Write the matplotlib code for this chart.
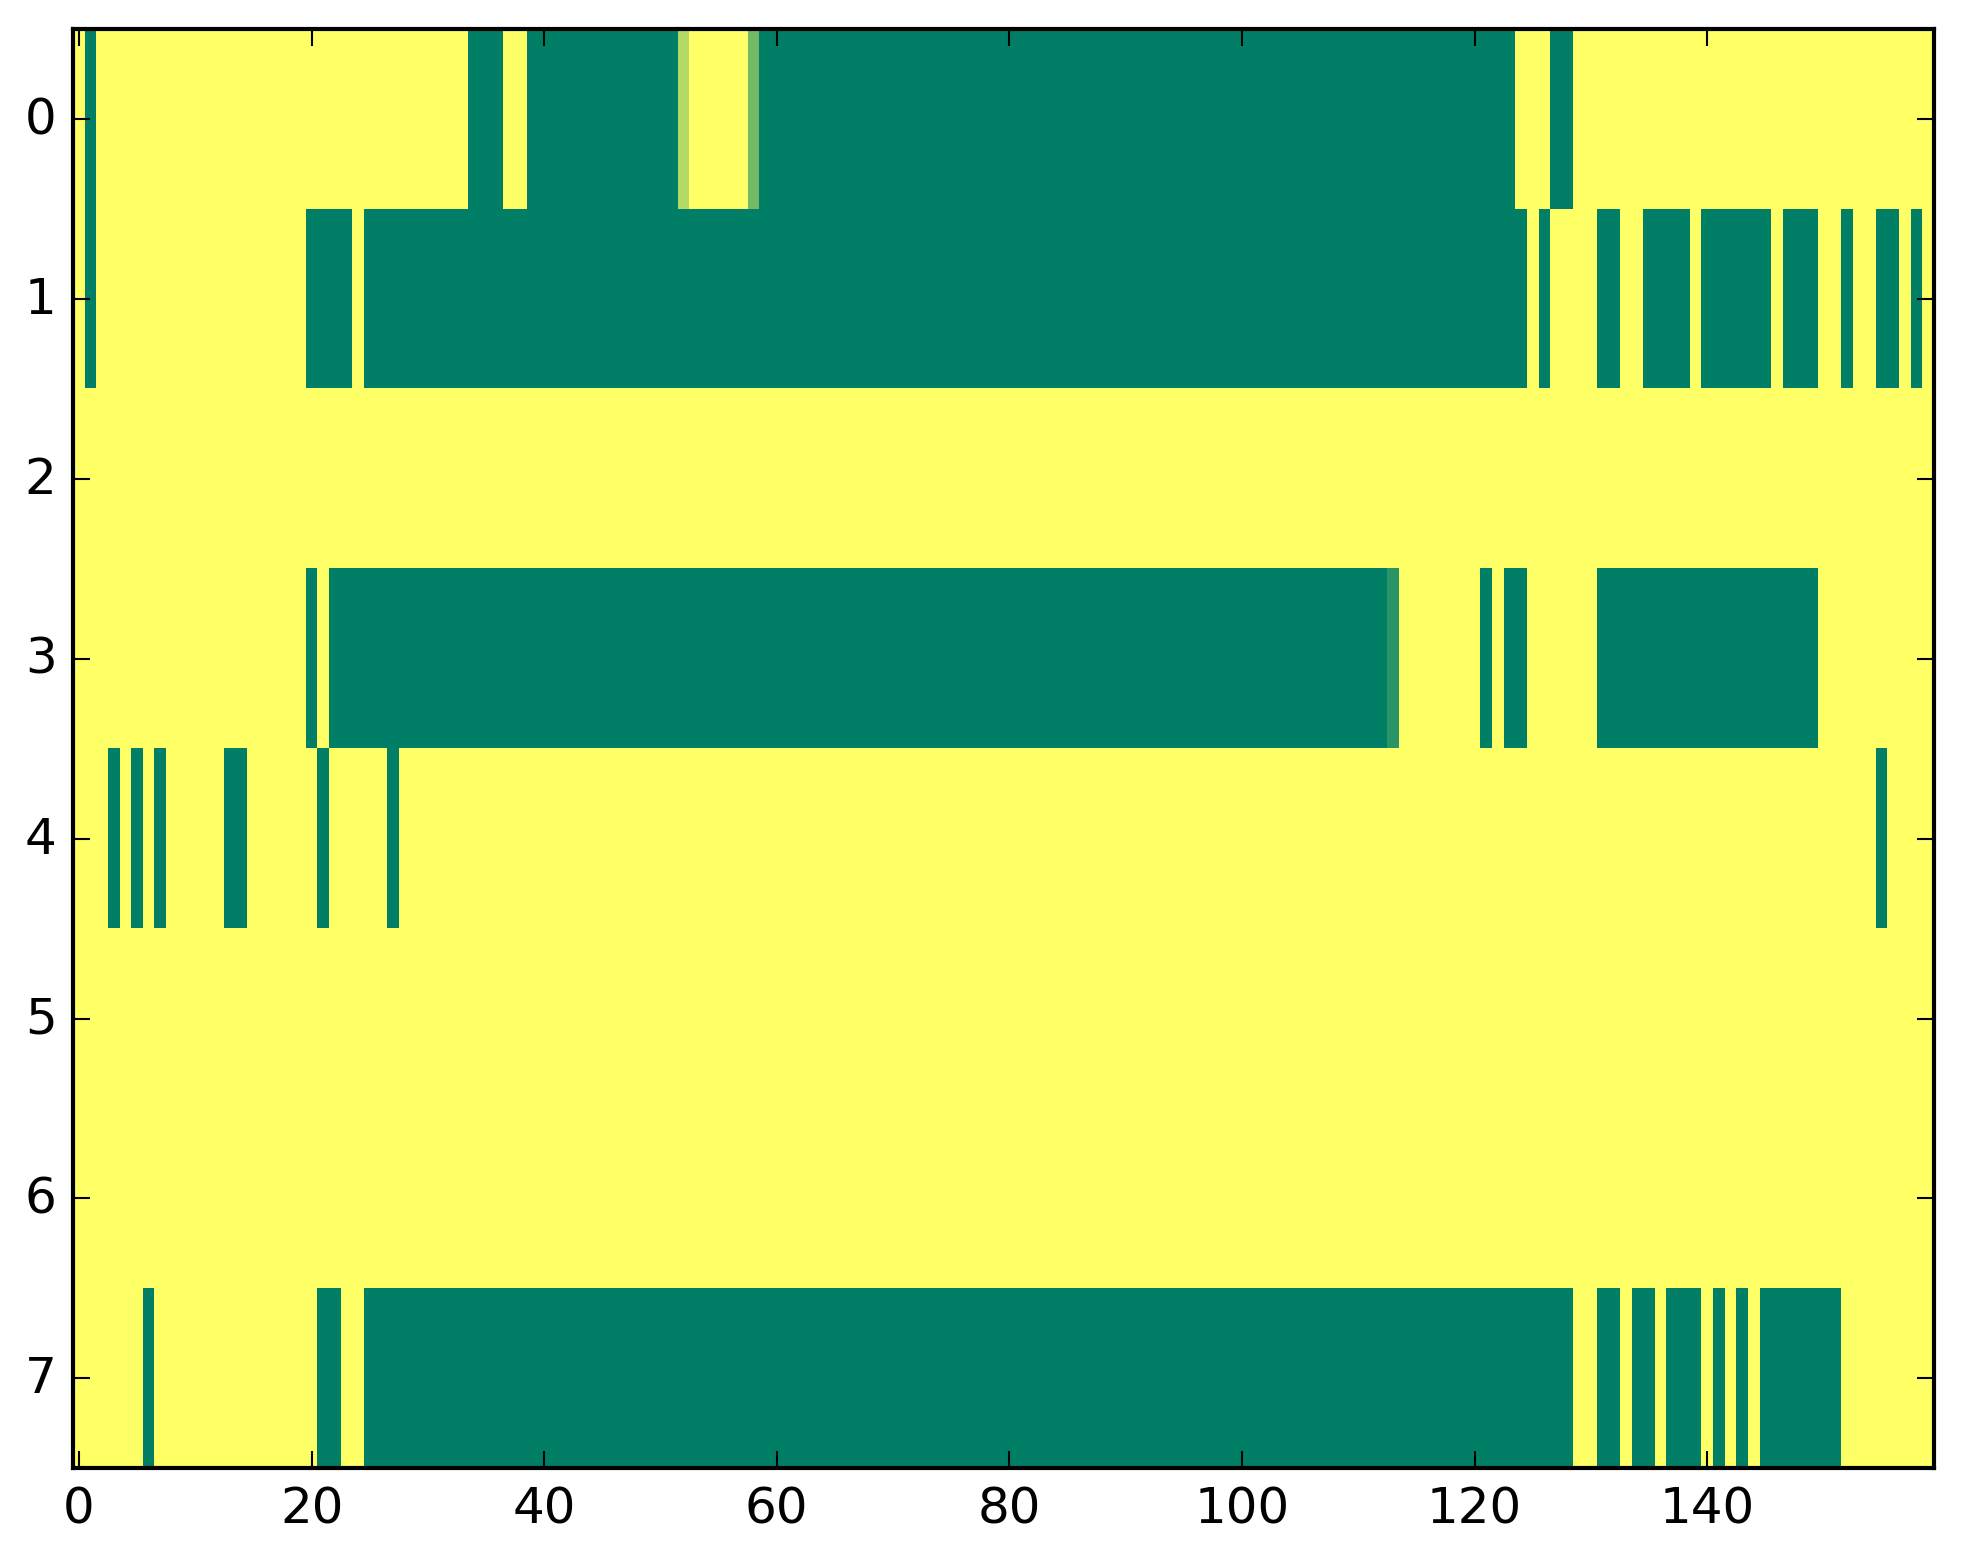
import numpy as np
import matplotlib
matplotlib.use("Agg")
import matplotlib.pyplot as plt

# each row as runs of (value, number of columns)
row0 = [(1, 1), (0, 1), (1, 32), (0, 3), (1, 2), (0, 13), (0.7, 1), (1, 5),
        (0.45, 1), (0, 65), (1, 3), (0, 2), (1, 31)]
row1 = [(1, 1), (0, 1), (1, 18), (0, 4), (1, 1), (0, 100), (1, 1), (0, 1),
        (1, 4), (0, 2), (1, 2), (0, 4), (1, 1), (0, 6), (1, 1), (0, 3),
        (1, 2), (0, 1), (1, 2), (0, 2), (1, 1), (0, 1), (1, 1)]
row2 = [(1, 160)]
row3 = [(1, 20), (0, 1), (1, 1), (0, 91), (0.165, 1), (1, 7), (0, 1), (1, 1),
        (0, 2), (1, 6), (0, 19), (1, 10)]
row4 = [(1, 3), (0, 1), (1, 1), (0, 1), (1, 1), (0, 1), (1, 5), (0, 2),
        (1, 6), (0, 1), (1, 5), (0, 1), (1, 127), (0, 1), (1, 4)]
row5 = [(1, 160)]
row6 = [(1, 160)]
row7 = [(1, 6), (0, 1), (1, 14), (0, 2), (1, 2), (0, 104), (1, 2), (0, 2),
        (1, 1), (0, 2), (1, 1), (0, 3), (1, 1), (0, 1), (1, 1), (0, 1),
        (1, 1), (0, 7), (1, 8)]

rows = [row0, row1, row2, row3, row4, row5, row6, row7]


def expand(runs):
    vals = []
    for v, n in runs:
        vals += [v] * n
    return vals


data = np.array([expand(r) for r in rows])

plt.style.use("classic")
fig = plt.figure(figsize=(1963 / 300, 1564 / 300), dpi=300, facecolor="white")
ax = fig.add_subplot(111)
fig.subplots_adjust(left=0.0373, right=0.9852, top=0.9805, bottom=0.0607)

ax.imshow(data, cmap="summer", vmin=0, vmax=1, aspect="auto",
          interpolation="nearest")

ax.set_xticks(np.arange(0, 160, 20))
ax.set_yticks(np.arange(0, 8))
ax.tick_params(labelsize=12)

fig.savefig("out.png", dpi=300, facecolor="white")
